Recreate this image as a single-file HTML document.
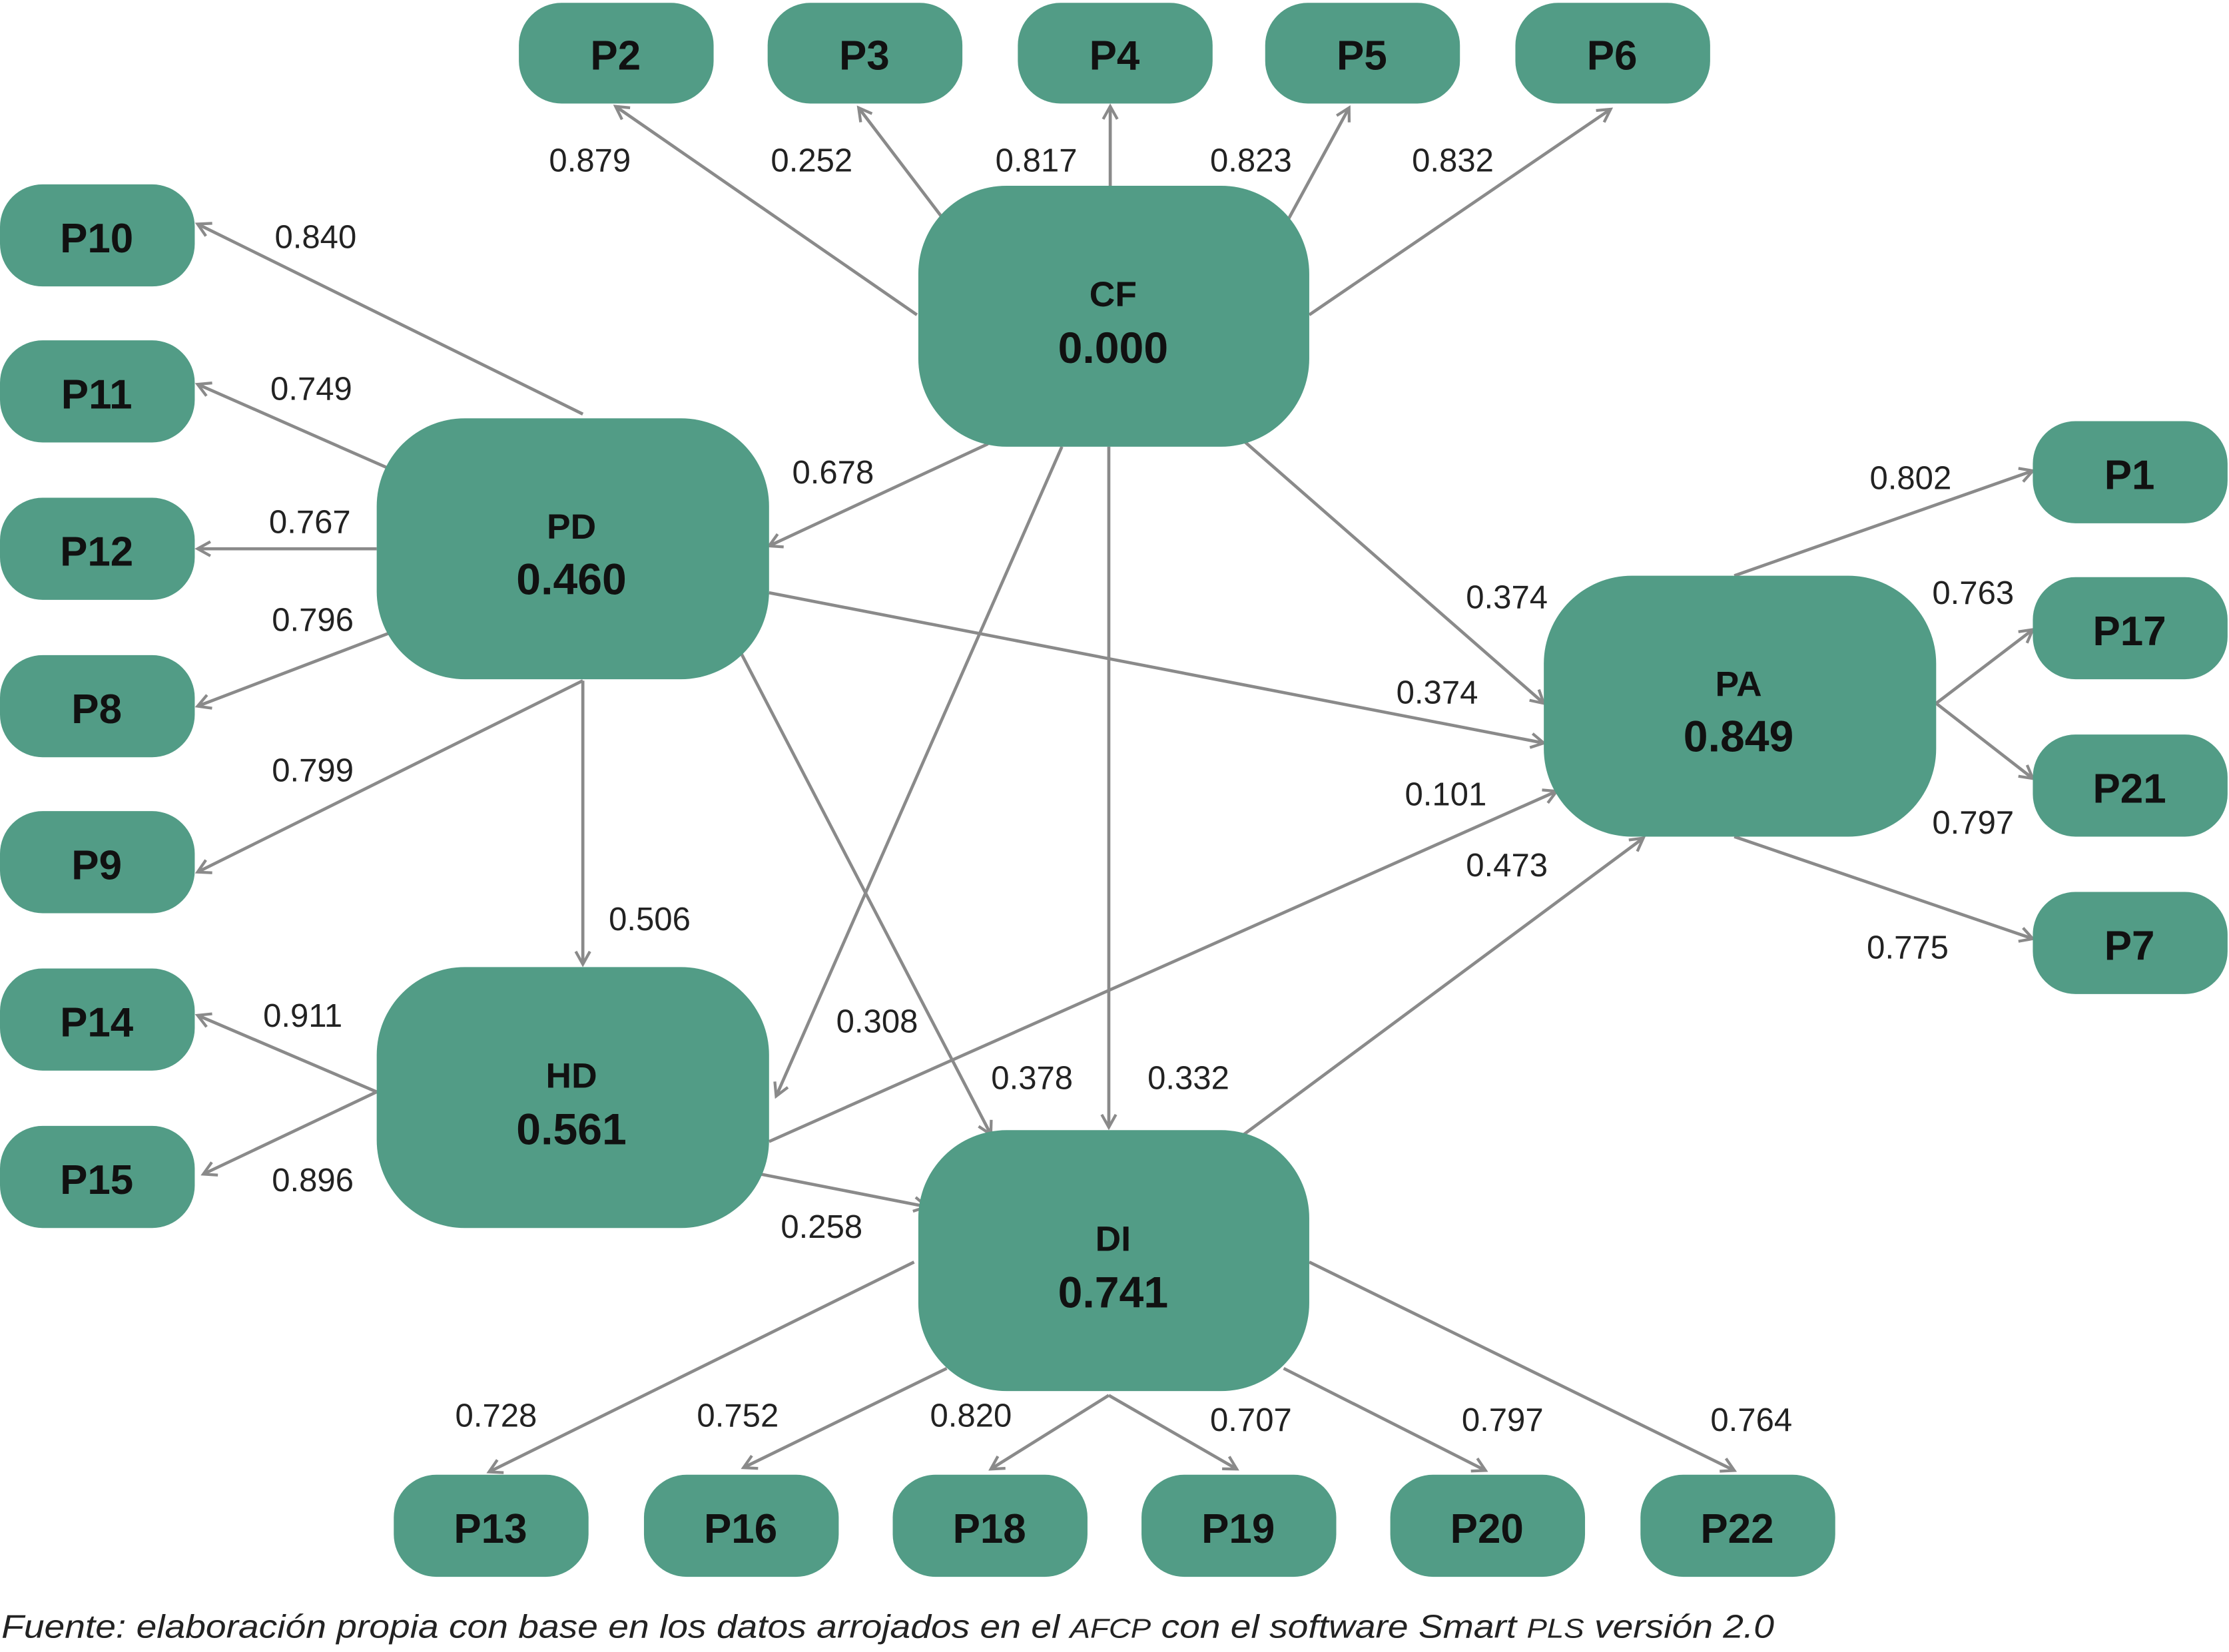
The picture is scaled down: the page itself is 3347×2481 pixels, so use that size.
<!DOCTYPE html>
<html><head><meta charset="utf-8"><style>
html,body{margin:0;padding:0;background:#fff;}
svg{display:block;}
</style></head><body>
<svg width="3347" height="2481" viewBox="0 0 1568 1165" preserveAspectRatio="none" xmlns="http://www.w3.org/2000/svg">
<defs>
<marker id="a" markerWidth="12" markerHeight="12" refX="10" refY="6" orient="auto" markerUnits="userSpaceOnUse">
<path d="M1,1 L10,6 L1,11" fill="none" stroke="#8a8a8a" stroke-width="2"/>
</marker>
</defs>
<g stroke="#8a8a8a" stroke-width="2.2" fill="none" marker-end="url(#a)">
<line x1="645" y1="222" x2="433" y2="75"/>
<line x1="664" y1="155" x2="604" y2="76"/>
<line x1="781" y1="131" x2="781" y2="75"/>
<line x1="905" y1="157" x2="949" y2="76"/>
<line x1="921" y1="222" x2="1133" y2="77"/>
<line x1="410" y1="292" x2="139" y2="158"/>
<line x1="275" y1="331" x2="139" y2="271"/>
<line x1="265" y1="387" x2="139" y2="387"/>
<line x1="275" y1="446" x2="139" y2="498"/>
<line x1="410" y1="480" x2="139" y2="615"/>
<line x1="695" y1="313" x2="541" y2="385"/>
<line x1="875" y1="311" x2="1086" y2="496"/>
<line x1="541" y1="418" x2="1086" y2="524"/>
<line x1="541" y1="805" x2="1095" y2="558"/>
<line x1="875" y1="800" x2="1156" y2="591"/>
<line x1="410" y1="480" x2="410" y2="680"/>
<line x1="747" y1="315" x2="546" y2="773"/>
<line x1="521" y1="460" x2="697" y2="800"/>
<line x1="780" y1="315" x2="780" y2="795"/>
<line x1="535" y1="828" x2="652" y2="851"/>
<line x1="265" y1="770" x2="139" y2="716"/>
<line x1="265" y1="770" x2="143" y2="828"/>
<line x1="1220" y1="406" x2="1430" y2="332"/>
<line x1="1362" y1="496" x2="1430" y2="444"/>
<line x1="1362" y1="496" x2="1430" y2="549"/>
<line x1="1220" y1="590" x2="1430" y2="662"/>
<line x1="643" y1="890" x2="344" y2="1038"/>
<line x1="666" y1="965" x2="523" y2="1035"/>
<line x1="780" y1="984" x2="697" y2="1036"/>
<line x1="780" y1="984" x2="870" y2="1036"/>
<line x1="903" y1="965" x2="1045" y2="1037"/>
<line x1="921" y1="890" x2="1220" y2="1037"/>
</g>
<g fill="#529c86">
<rect x="365" y="2" width="137" height="71" rx="30"/>
<rect x="540" y="2" width="137" height="71" rx="30"/>
<rect x="716" y="2" width="137" height="71" rx="30"/>
<rect x="890" y="2" width="137" height="71" rx="30"/>
<rect x="1066" y="2" width="137" height="71" rx="30"/>
<rect x="0" y="130" width="137" height="72" rx="30"/>
<rect x="0" y="240" width="137" height="72" rx="30"/>
<rect x="0" y="351" width="137" height="72" rx="30"/>
<rect x="0" y="462" width="137" height="72" rx="30"/>
<rect x="0" y="572" width="137" height="72" rx="30"/>
<rect x="0" y="683" width="137" height="72" rx="30"/>
<rect x="0" y="794" width="137" height="72" rx="30"/>
<rect x="1430" y="297" width="137" height="72" rx="30"/>
<rect x="1430" y="407" width="137" height="72" rx="30"/>
<rect x="1430" y="518" width="137" height="72" rx="30"/>
<rect x="1430" y="629" width="137" height="72" rx="30"/>
<rect x="277" y="1040" width="137" height="72" rx="30"/>
<rect x="453" y="1040" width="137" height="72" rx="30"/>
<rect x="628" y="1040" width="137" height="72" rx="30"/>
<rect x="803" y="1040" width="137" height="72" rx="30"/>
<rect x="978" y="1040" width="137" height="72" rx="30"/>
<rect x="1154" y="1040" width="137" height="72" rx="30"/>
<rect x="646" y="131" width="275" height="184" rx="62"/>
<rect x="265" y="295" width="276" height="184" rx="62"/>
<rect x="1086" y="406" width="276" height="184" rx="62"/>
<rect x="265" y="682" width="276" height="184" rx="62"/>
<rect x="646" y="797" width="275" height="184" rx="62"/>
</g>
<g font-family="Liberation Sans, sans-serif" font-weight="bold" font-size="29" fill="#111" text-anchor="middle">
<text x="433" y="49">P2</text><text x="608" y="49">P3</text><text x="784" y="49">P4</text><text x="958" y="49">P5</text><text x="1134" y="49">P6</text>
<text x="68" y="178">P10</text><text x="68" y="288">P11</text><text x="68" y="399">P12</text><text x="68" y="510">P8</text><text x="68" y="620">P9</text><text x="68" y="731">P14</text><text x="68" y="842">P15</text>
<text x="1498" y="345">P1</text><text x="1498" y="455">P17</text><text x="1498" y="566">P21</text><text x="1498" y="677">P7</text>
<text x="345" y="1088">P13</text><text x="521" y="1088">P16</text><text x="696" y="1088">P18</text><text x="871" y="1088">P19</text><text x="1046" y="1088">P20</text><text x="1222" y="1088">P22</text>
<g font-size="25"><text x="783" y="216">CF</text><text x="402" y="380">PD</text><text x="1223" y="491">PA</text><text x="402" y="767">HD</text><text x="783" y="882">DI</text></g>
<g font-size="31"><text x="783" y="256">0.000</text><text x="402" y="419">0.460</text><text x="1223" y="530">0.849</text><text x="402" y="807">0.561</text><text x="783" y="922">0.741</text></g>
</g>
<g font-family="Liberation Sans, sans-serif" font-size="23" fill="#222" text-anchor="middle">
<text x="415" y="121">0.879</text><text x="571" y="121">0.252</text><text x="729" y="121">0.817</text><text x="880" y="121">0.823</text><text x="1022" y="121">0.832</text>
<text x="222" y="175">0.840</text><text x="219" y="282">0.749</text><text x="218" y="376">0.767</text><text x="220" y="445">0.796</text><text x="220" y="551">0.799</text>
<text x="586" y="341">0.678</text><text x="1060" y="429">0.374</text><text x="1011" y="496">0.374</text><text x="1017" y="568">0.101</text><text x="1060" y="618">0.473</text>
<text x="457" y="656">0.506</text><text x="617" y="728">0.308</text><text x="726" y="768">0.378</text><text x="836" y="768">0.332</text><text x="578" y="873">0.258</text>
<text x="213" y="724">0.911</text><text x="220" y="840">0.896</text>
<text x="1344" y="345">0.802</text><text x="1388" y="426">0.763</text><text x="1388" y="588">0.797</text><text x="1342" y="676">0.775</text>
<text x="349" y="1006">0.728</text><text x="519" y="1006">0.752</text><text x="683" y="1006">0.820</text><text x="880" y="1009">0.707</text><text x="1057" y="1009">0.797</text><text x="1232" y="1009">0.764</text>
</g>
<text x="1" y="1155" font-family="Liberation Sans, sans-serif" font-style="italic" font-size="23" fill="#222" textLength="1247" lengthAdjust="spacingAndGlyphs">Fuente: elaboración propia con base en los datos arrojados en el <tspan font-size="19">AFCP</tspan> con el software Smart <tspan font-size="19">PLS</tspan> versión 2.0</text>
</svg>
</body></html>
